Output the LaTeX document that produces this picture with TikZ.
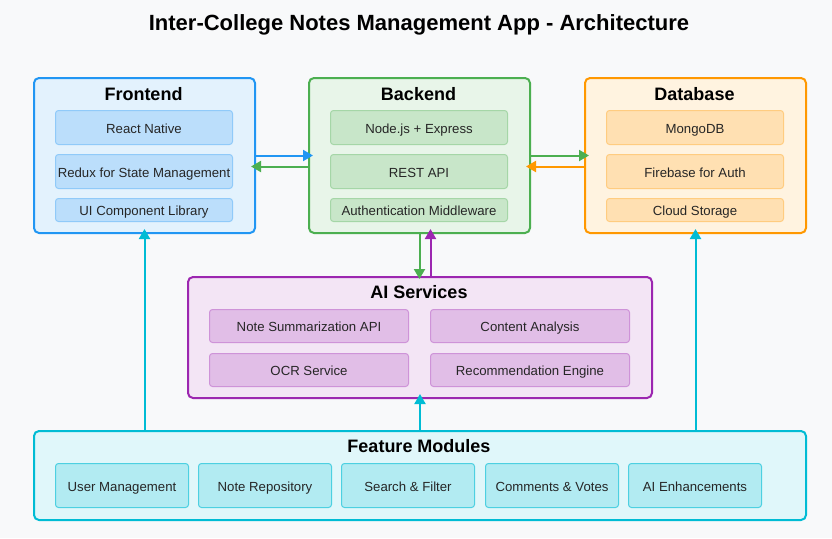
\documentclass[tikz,border=0pt]{standalone}
\usepackage{fontspec}
\setmainfont{Liberation Sans}
\usetikzlibrary{arrows.meta}
\definecolor{bgC}{HTML}{F8F9FA}
\definecolor{feB}{HTML}{2196F3}\definecolor{feF}{HTML}{E3F2FD}\definecolor{feS}{HTML}{BBDEFB}\definecolor{feSB}{HTML}{90CAF9}
\definecolor{beB}{HTML}{4CAF50}\definecolor{beF}{HTML}{E8F5E9}\definecolor{beS}{HTML}{C8E6C9}\definecolor{beSB}{HTML}{A5D6A7}
\definecolor{dbB}{HTML}{FF9800}\definecolor{dbF}{HTML}{FFF3E0}\definecolor{dbS}{HTML}{FFE0B2}\definecolor{dbSB}{HTML}{FFCC80}
\definecolor{aiB}{HTML}{9C27B0}\definecolor{aiF}{HTML}{F3E5F5}\definecolor{aiS}{HTML}{E1BEE7}\definecolor{aiSB}{HTML}{CE93D8}
\definecolor{fmB}{HTML}{00BCD4}\definecolor{fmF}{HTML}{E0F7FA}\definecolor{fmS}{HTML}{B2EBF2}\definecolor{fmSB}{HTML}{4DD0E1}
\tikzset{
  outer/.style={draw, line width=2pt, rounded corners=5pt, inner sep=0pt, anchor=north west},
  sub/.style={draw, line width=1pt, rounded corners=3pt, inner sep=0pt, anchor=north west, font=\fontsize{13.2}{15}\selectfont, text=black!85, text height=11pt, text depth=0pt},
  ttl/.style={font=\bfseries\fontsize{18}{21}\selectfont},
  arr/.style={line width=2pt, -{Triangle[length=10pt,width=11pt]}},
}
\begin{document}
\begin{tikzpicture}[x=1pt,y=-1pt]
\fill[bgC] (0,0) rectangle (832,538);
\useasboundingbox (0,0) rectangle (832,538);
\node[font=\bfseries\fontsize{22}{26}\selectfont] (title) at (419,25) {Inter-College Notes Management App - Architecture};
% Frontend
\node[outer, draw=feB, fill=feF, minimum width=221pt, minimum height=155pt] (fe) at (33,77) {};
\node[ttl] (fet) at (143.5,94) {Frontend};
\begin{scope}[every node/.append style={sub, draw=feSB, fill=feS, minimum width=177pt}]
\node[minimum height=34pt] (fe1) at (55,110) {React Native};
\node[minimum height=34pt] (fe2) at (55,154) {Redux for State Management};
\node[minimum height=23pt] (fe3) at (55,198) {UI Component Library};
\end{scope}
% Backend
\node[outer, draw=beB, fill=beF, minimum width=221pt, minimum height=155pt] (be) at (308,77) {};
\node[ttl] (bet) at (418.5,94) {Backend};
\begin{scope}[every node/.append style={sub, draw=beSB, fill=beS, minimum width=177pt}]
\node[minimum height=34pt] (be1) at (330,110) {Node.js + Express};
\node[minimum height=34pt] (be2) at (330,154) {REST API};
\node[minimum height=23pt] (be3) at (330,198) {Authentication Middleware};
\end{scope}
% Database
\node[outer, draw=dbB, fill=dbF, minimum width=221pt, minimum height=155pt] (db) at (584,77) {};
\node[ttl] (dbt) at (694.5,94) {Database};
\begin{scope}[every node/.append style={sub, draw=dbSB, fill=dbS, minimum width=177pt}]
\node[minimum height=34pt] (db1) at (606,110) {MongoDB};
\node[minimum height=34pt] (db2) at (606,154) {Firebase for Auth};
\node[minimum height=23pt] (db3) at (606,198) {Cloud Storage};
\end{scope}
% AI Services
\node[outer, draw=aiB, fill=aiF, minimum width=464pt, minimum height=121pt] (ai) at (187,276) {};
\node[ttl] (ait) at (419,292) {AI Services};
\begin{scope}[every node/.append style={sub, draw=aiSB, fill=aiS, minimum width=199pt, minimum height=33pt}]
\node (ai1) at (209,309) {Note Summarization API};
\node (ai2) at (430,309) {Content Analysis};
\node (ai3) at (209,353) {OCR Service};
\node (ai4) at (430,353) {Recommendation Engine};
\end{scope}
% Feature Modules
\node[outer, draw=fmB, fill=fmF, minimum width=772pt, minimum height=89pt] (fm) at (33,430) {};
\node[ttl] (fmt) at (419,446) {Feature Modules};
\begin{scope}[every node/.append style={sub, draw=fmSB, fill=fmS, minimum width=133pt, minimum height=44pt}]
\node (fm1) at (55,463) {User Management};
\node (fm2) at (198,463) {Note Repository};
\node (fm3) at (341,463) {Search \& Filter};
\node (fm4) at (485,463) {Comments \& Votes};
\node (fm5) at (628,463) {AI Enhancements};
\end{scope}
% horizontal connectors
\draw[arr, feB] (fe.east) -- ([xshift=5pt]be.west);
\draw[arr, beB] ([yshift=-11pt]be.west) -- ([yshift=-11pt,xshift=-5pt]fe.east);
\draw[arr, beB] (be.east) -- ([xshift=5pt]db.west);
\draw[arr, dbB] ([yshift=-11pt]db.west) -- ([yshift=-11pt,xshift=-5pt]be.east);
% vertical connectors
\draw[arr, beB] (be.south) -- ([yshift=-3pt]ai.north -| be.south);
\draw[arr, aiB] ([xshift=11pt]ai.north -| be.south) -- ([xshift=11pt,yshift=5pt]be.south);
\draw[arr, fmB] (fm.north -| fe.south) -- ([yshift=5pt]fe.south);
\draw[arr, fmB] (fm.north -| db.south) -- ([yshift=5pt]db.south);
\draw[arr, fmB] (fm.north -| ai.south) -- ([yshift=5pt]ai.south);
\end{tikzpicture}
\end{document}
